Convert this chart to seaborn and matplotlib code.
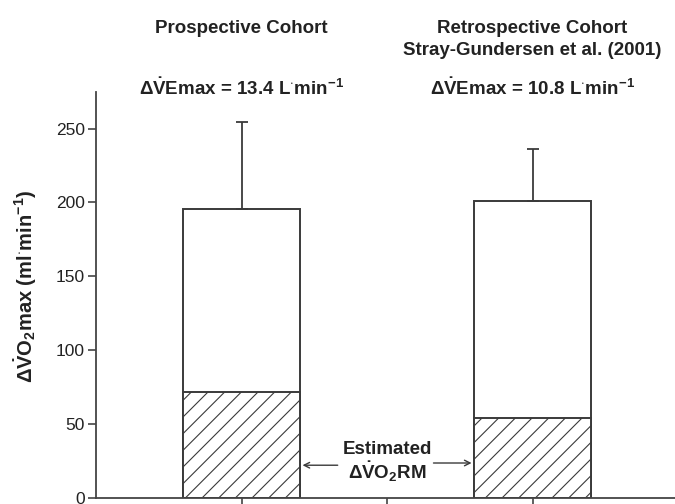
import numpy as np
import pandas as pd
import matplotlib
matplotlib.use('Agg')
import matplotlib.pyplot as plt
import seaborn as sns

# values
cohorts = ['Prospective Cohort', 'Retrospective Cohort']
vo2_change = [195.5, 201.0]     # total change in VO2max (ml/min)
vo2_sd = [59.0, 35.5]           # upper error bar
rm_estimate = [71.5, 54.0]      # estimated change in VO2 of respiratory muscles
ve_change = ['13.4', '10.8']    # change in VEmax (L/min)
yticks = [0, 50, 100, 150, 200, 250]

df = pd.DataFrame({'cohort': cohorts, 'vo2': vo2_change, 'rm': rm_estimate})
order = [cohorts[0], ' ', cohorts[1]]

sns.set_style('ticks')
plt.rcParams['font.family'] = ['Liberation Sans', 'DejaVu Sans']
plt.rcParams['mathtext.fontset'] = 'custom'
plt.rcParams['mathtext.rm'] = 'Liberation Sans'
plt.rcParams['mathtext.bf'] = 'Liberation Sans:bold'
plt.rcParams['mathtext.it'] = 'Liberation Sans:bold'
plt.rcParams['mathtext.default'] = 'bf'
plt.rcParams['hatch.linewidth'] = 0.8

line_col = '#3a3a3a'
txt_col = '#222222'
fs = 13.5

fig = plt.figure(figsize=(6.75, 5.04), dpi=100)
ax = fig.add_axes([96 / 675, 6.3 / 504, 585 / 675, 406 / 504])

# white total bars
sns.barplot(data=df, x='cohort', y='vo2', order=order, color='white',
            edgecolor=line_col, linewidth=1.4, width=0.8, errorbar=None,
            saturation=1, ax=ax)
# hatched respiratory muscle part
sns.barplot(data=df, x='cohort', y='rm', order=order, color='white',
            edgecolor=line_col, linewidth=1.4, width=0.8, errorbar=None,
            saturation=1, hatch='//', ax=ax)

# one-sided error bars
ax.errorbar([0, 2], vo2_change, yerr=[[0, 0], vo2_sd], fmt='none',
            ecolor=line_col, elinewidth=1.3, capsize=4.5, capthick=1.3)

ax.set_xlim(-1, 3.02)
ax.set_ylim(0, 275)
ax.set_xticks([0, 1, 2])
ax.set_xticklabels(['', '', ''])
ax.set_yticks(yticks)
ax.set_yticklabels([str(t) for t in yticks])
ax.set_xlabel('')
ax.set_ylabel(r'Δ$\dot{V}$O$_2$max (ml$^{\cdot}$min$^{-1}$)', fontsize=14.5,
              fontweight='bold', color=txt_col)
ax.yaxis.set_label_coords(-0.098, 0.52)

sns.despine(ax=ax)
for s in ['left', 'bottom']:
    ax.spines[s].set_color('#444444')
    ax.spines[s].set_linewidth(1.3)
ax.tick_params(axis='both', direction='out', length=6, width=1.2,
               color='#444444', labelsize=12.5, labelcolor=txt_col, pad=2)

# headers above bars
tr = ax.get_xaxis_transform()
ax.text(0, 1.1446, 'Prospective Cohort', transform=tr, ha='center', va='baseline',
        fontsize=fs, fontweight='bold', color=txt_col, clip_on=False)
ax.text(2, 1.1446, 'Retrospective Cohort', transform=tr, ha='center', va='baseline',
        fontsize=fs, fontweight='bold', color=txt_col, clip_on=False)
ax.text(2, 1.0904, 'Stray-Gundersen et al. (2001)', transform=tr, ha='center',
        va='baseline', fontsize=fs, fontweight='bold', color=txt_col, clip_on=False)
for xpos, ve in zip([0, 2], ve_change):
    ax.text(xpos, 0.992, 'Δ$\\dot{V}$Emax = ' + ve + ' L$^{\\cdot}$min$^{-1}$',
            transform=tr, ha='center', va='baseline', fontsize=fs,
            fontweight='bold', color=txt_col, clip_on=False)

# annotation with arrows
ax.text(1, 24, 'Estimated\nΔ$\\dot{V}$O$_2$RM', ha='center', va='center',
        fontsize=fs, fontweight='bold', color=txt_col, linespacing=1.1)
ax.annotate('', xy=(0.4, 22), xytext=(0.68, 22),
            arrowprops=dict(arrowstyle='->', color=line_col, lw=1.0))
ax.annotate('', xy=(1.6, 23.5), xytext=(1.3, 23.5),
            arrowprops=dict(arrowstyle='->', color=line_col, lw=1.0))

fig.savefig('out.png', dpi=100)
